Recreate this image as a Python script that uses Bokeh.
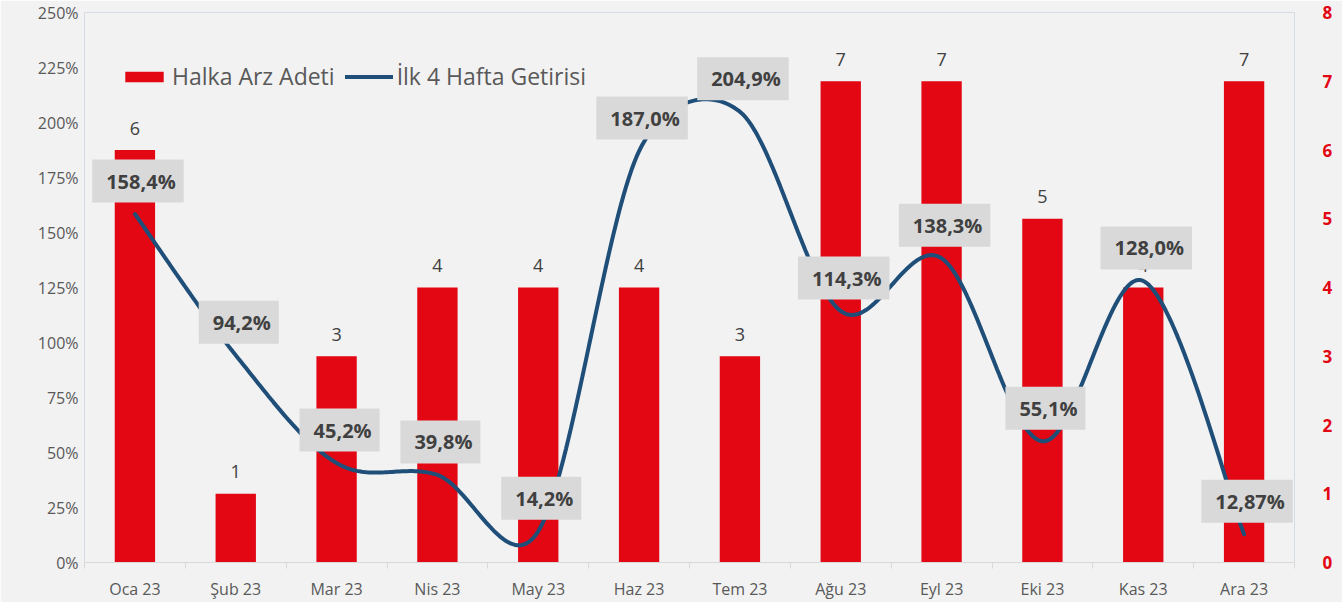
import numpy as np
from bokeh.plotting import figure
from bokeh.models import Range1d, LinearAxis, FixedTicker, Legend, LegendItem, ColumnDataSource
from bokeh.core.properties import value
from bokeh.embed import file_html
from bokeh.resources import INLINE

months = ["Oca 23", "Şub 23", "Mar 23", "Nis 23", "May 23", "Haz 23",
          "Tem 23", "Ağu 23", "Eyl 23", "Eki 23", "Kas 23", "Ara 23"]
ipo_count = [6, 1, 3, 4, 4, 4, 3, 7, 7, 5, 4, 7]
return_4w = [158.4, 94.2, 45.2, 39.8, 14.2, 187.0, 204.9, 114.3, 138.3, 55.1, 128.0, 12.87]
return_labels = ["158,4%", "94,2%", "45,2%", "39,8%", "14,2%", "187,0%",
                 "204,9%", "114,3%", "138,3%", "55,1%", "128,0%", "12,87%"]
left_ticks = [0, 25, 50, 75, 100, 125, 150, 175, 200, 225, 250]
right_ticks = [0, 1, 2, 3, 4, 5, 6, 7, 8]

FONT = "Open Sans"
RED = "#E30613"
BLUE = "#1F4E79"
BG = "#F2F2F2"

xs = [i + 0.5 for i in range(len(months))]

# pixel scale of the frame, used only for the shape of the smoothed curve
PX_X = 1210 / 12
PX_Y = 552 / 250


def smooth(xv, yv, steps=40):
    # Bezier smoothing similar to a spreadsheet "smoothed line":
    # Catmull-Rom control points, limited to half of the segment length (screen space)
    n = len(xv)
    P = [np.array([xv[i] * PX_X, yv[i] * PX_Y]) for i in range(n)]
    px, py = [], []
    for i in range(n - 1):
        p0, p1, p2, p3 = P[max(i - 1, 0)], P[i], P[i + 1], P[min(i + 2, n - 1)]
        seg = np.linalg.norm(p2 - p1)
        v1 = (p2 - p0) / 6
        v2 = (p3 - p1) / 6
        l1, l2 = np.linalg.norm(v1), np.linalg.norm(v2)
        if l1 > seg / 2:
            v1 = v1 * (seg / 2) / l1
        if l2 > seg / 2:
            v2 = v2 * (seg / 2) / l2
        c1 = p1 + v1
        c2 = p2 - v2
        for t in np.linspace(0, 1, steps, endpoint=(i == n - 2)):
            a, b, c, d = (1 - t) ** 3, 3 * (1 - t) ** 2 * t, 3 * (1 - t) * t ** 2, t ** 3
            q = a * p1 + b * c1 + c * c2 + d * p2
            px.append(q[0] / PX_X)
            py.append(q[1] / PX_Y)
    return px, py


p = figure(width=1342, height=602, output_backend="svg", toolbar_location=None,
           x_range=Range1d(0, len(months)), y_range=Range1d(0, 250),
           min_border_left=84, min_border_right=48, min_border_top=12, min_border_bottom=38)
p.extra_y_ranges = {"count": Range1d(0, 8)}

p.background_fill_color = BG
p.border_fill_color = BG
p.outline_line_color = "#D6DCE4"
p.outline_line_width = 1
p.xgrid.visible = False
p.ygrid.visible = False

# left axis
la = p.yaxis[0]
la.ticker = FixedTicker(ticks=left_ticks)
la.major_label_overrides = {t: f"{t}%" for t in left_ticks}
la.axis_line_color = None
la.major_tick_line_color = None
la.minor_tick_line_color = None
la.major_tick_out = 0
la.major_tick_in = 0
la.major_label_standoff = 6
la.major_label_text_font = FONT
la.major_label_text_font_size = "16px"
la.major_label_text_color = "#595959"

# right axis
ra = LinearAxis(y_range_name="count", ticker=FixedTicker(ticks=right_ticks))
ra.axis_line_color = None
ra.major_tick_line_color = None
ra.minor_tick_line_color = None
ra.major_tick_out = 0
ra.major_tick_in = 0
ra.major_label_standoff = 28
ra.major_label_text_font = FONT
ra.major_label_text_font_size = "17px"
ra.major_label_text_font_style = "bold"
ra.major_label_text_color = RED
p.add_layout(ra, "right")

# bottom axis
xa = p.xaxis[0]
xa.ticker = FixedTicker(ticks=xs, minor_ticks=list(range(len(months) + 1)))
xa.major_label_overrides = {x: m for x, m in zip(xs, months)}
xa.axis_line_color = "#D9D9D9"
xa.major_tick_line_color = None
xa.major_tick_out = 0
xa.major_tick_in = 0
xa.minor_tick_line_color = "#D9D9D9"
xa.minor_tick_out = 6
xa.minor_tick_in = 0
xa.major_label_standoff = 9
xa.major_label_text_font = FONT
xa.major_label_text_font_size = "16px"
xa.major_label_text_color = "#595959"

src = ColumnDataSource(dict(x=xs, cnt=ipo_count, cnt_lbl=[str(c) for c in ipo_count],
                            ret=return_4w, ret_lbl=return_labels))

bars = p.vbar(x="x", top="cnt", width=0.4, source=src, y_range_name="count",
              fill_color=RED, line_color=None)
p.text(x="x", y="cnt", text="cnt_lbl", source=src, y_range_name="count",
       text_align="center", text_baseline="middle", y_offset=-22,
       text_font=value(FONT), text_font_size="18px", text_color="#404040")

sx, sy = smooth(xs, return_4w)
line = p.line(sx, sy, line_color=BLUE, line_width=4, line_cap="round")

p.text(x="x", y="ret", text="ret_lbl", source=src,
       text_align="center", text_baseline="middle", y_offset=-33, x_offset=3,
       text_font=value(FONT), text_font_size="20px", text_font_style="bold",
       text_color="#404040", background_fill_color="#D9D9D9",
       padding=dict(left=14, right=8, top=8, bottom=8))

legend = Legend(items=[LegendItem(label="Halka Arz Adeti", renderers=[bars]),
                       LegendItem(label="İlk 4 Hafta Getirisi", renderers=[line])],
                orientation="horizontal", location=(36, 470),
                background_fill_alpha=0, border_line_color=None,
                glyph_width=48, glyph_height=13, label_standoff=4, spacing=10,
                padding=0, margin=0,
                label_text_font=FONT, label_text_font_size="23px", label_text_color="#595959")
p.add_layout(legend)

open("out.html", "w").write(file_html(p, INLINE))
